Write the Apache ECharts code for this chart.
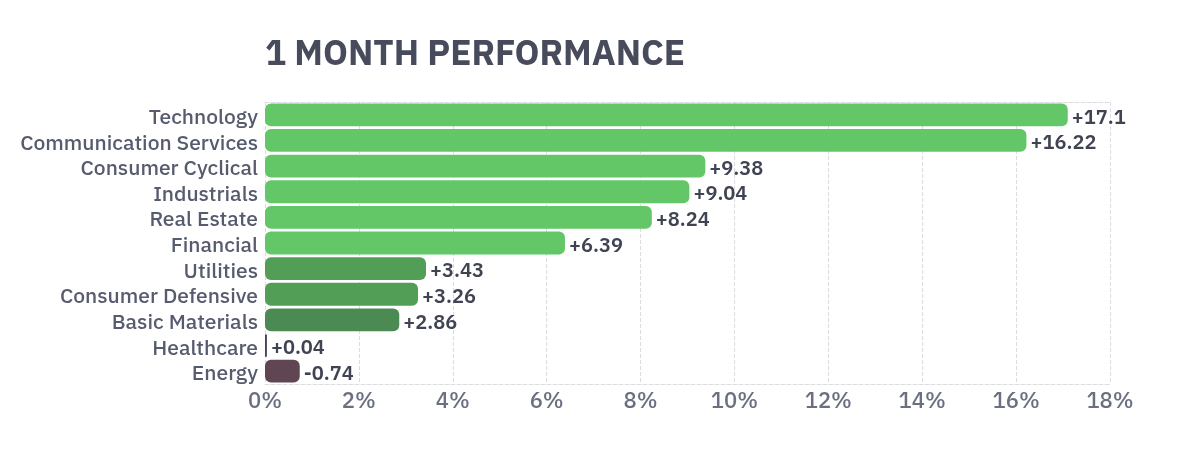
<!DOCTYPE html>
<html>
<head>
<meta charset="utf-8">
<script src="https://cdn.jsdelivr.net/npm/echarts@6/dist/echarts.min.js"></script>
<style>
  html, body { margin: 0; padding: 0; background: #fff; }
  #main { width: 1200px; height: 457px; }
</style>
</head>
<body>
<div id="main"></div>
<script>
var sectors = ['Technology', 'Communication Services', 'Consumer Cyclical', 'Industrials',
  'Real Estate', 'Financial', 'Utilities', 'Consumer Defensive', 'Basic Materials',
  'Healthcare', 'Energy'];
var perf = [17.1, 16.22, 9.38, 9.04, 8.24, 6.39, 3.43, 3.26, 2.86, 0.04, -0.74];
var xTicks = [0, 2, 4, 6, 8, 10, 12, 14, 16, 18];

function barColor(v) {
  if (v < 0) return '#5f4652';
  if (v < 0.5) return '#414554';
  if (v < 3) return '#4b8a52';
  if (v < 5) return '#529e57';
  return '#63c767';
}

var chart = echarts.init(document.getElementById('main'));
var fam = '"IBM Plex Sans", "Noto Sans", sans-serif';

var option = {
  animation: false,
  title: {
    text: '1 MONTH PERFORMANCE',
    left: 260, top: 32,
    textStyle: { fontFamily: fam, fontSize: 35, fontWeight: 'bold', color: '#474b5c' }
  },
  grid: { left: 265, right: 90, top: 102, bottom: 73 },
  xAxis: [{
    type: 'value',
    min: xTicks[0], max: xTicks[xTicks.length - 1], interval: 2,
    axisLine: { show: true, lineStyle: { color: '#dcdce0', type: 'dashed' } },
    axisTick: { show: false },
    axisLabel: {
      formatter: '{value}%', color: '#6b7080', fontSize: 22, fontWeight: 500,
      fontFamily: fam, margin: 7
    },
    splitLine: { lineStyle: { color: '#dcdce0', type: 'dashed' } }
  }, {
    type: 'value', position: 'top',
    min: xTicks[0], max: xTicks[xTicks.length - 1],
    axisLine: { show: true, lineStyle: { color: '#dcdce0', type: 'dashed' } },
    axisTick: { show: false }, axisLabel: { show: false }, splitLine: { show: false }
  }],
  yAxis: {
    type: 'category', data: sectors, inverse: true,
    axisLine: { show: false }, axisTick: { show: false },
    axisLabel: {
      interval: 0, margin: 7,
      formatter: function (v) { return '{s|' + v + '}'; },
      rich: {
        s: {
          color: '#565b6e', fontSize: 21, fontWeight: 500, fontFamily: fam,
          padding: [6, 0, 0, 0]
        }
      }
    }
  },
  series: [{
    type: 'bar',
    barCategoryGap: '11%',
    data: perf.map(function (v) {
      return { value: Math.abs(v), raw: v, itemStyle: { color: barColor(v) } };
    }),
    itemStyle: { borderRadius: 6 },
    label: {
      show: true, position: 'right', distance: 4, offset: [0, 3],
      color: '#3f4352', fontSize: 20, fontWeight: 600, fontFamily: fam,
      formatter: function (p) {
        var v = p.data.raw;
        return (v >= 0 ? '+' : '') + v;
      }
    }
  }]
};
chart.setOption(option);
</script>
</body>
</html>
